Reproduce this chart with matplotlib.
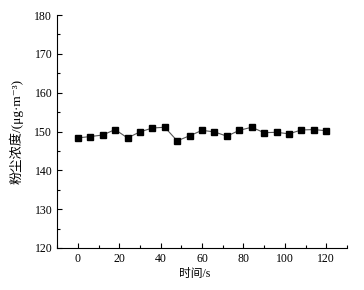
import matplotlib
matplotlib.use("Agg")
import matplotlib.pyplot as plt
from matplotlib.ticker import MultipleLocator

plt.rcParams['font.family'] = ['Liberation Serif', 'Noto Sans CJK SC', 'DejaVu Serif']

time_s = [0, 6, 12, 18, 24, 30, 36, 42, 48, 54, 60, 66, 72, 78, 84, 90, 96, 102, 108, 114, 120]
dust = [148.35, 148.7, 149.1, 150.5, 148.35, 149.9, 150.9, 151.1, 147.6, 148.9, 150.3,
        149.9, 148.8, 150.3, 151.1, 149.7, 149.8, 149.4, 150.4, 150.5, 150.2]

fig = plt.figure(figsize=(3.64, 2.90), dpi=100)
ax = fig.add_axes([0.157, 0.145, 0.796, 0.803])
ax.plot(time_s, dust, color='#555555', lw=0.8, marker='s', markersize=4.2,
        markerfacecolor='black', markeredgecolor='black')
ax.set_xlim(-10, 130)
ax.set_ylim(120, 180)
ax.xaxis.set_major_locator(MultipleLocator(20))
ax.xaxis.set_minor_locator(MultipleLocator(10))
ax.yaxis.set_major_locator(MultipleLocator(10))
ax.yaxis.set_minor_locator(MultipleLocator(5))
for s in ['top', 'right']:
    ax.spines[s].set_visible(False)
for s in ['left', 'bottom']:
    ax.spines[s].set_linewidth(0.8)
ax.tick_params(which='both', direction='in', labelsize=8.5, width=0.8)
ax.tick_params(which='major', length=3.5)
ax.tick_params(which='minor', length=2)
ax.set_xlabel('时间/s', fontsize=8.5, labelpad=2)
ax.xaxis.set_label_coords(0.474, -0.085)
ax.set_ylabel('粉尘浓度/(μg·m⁻³)', fontsize=9.5, labelpad=4)
ax.yaxis.set_label_coords(-0.115, 0.5)
fig.savefig('out.png', dpi=100)
